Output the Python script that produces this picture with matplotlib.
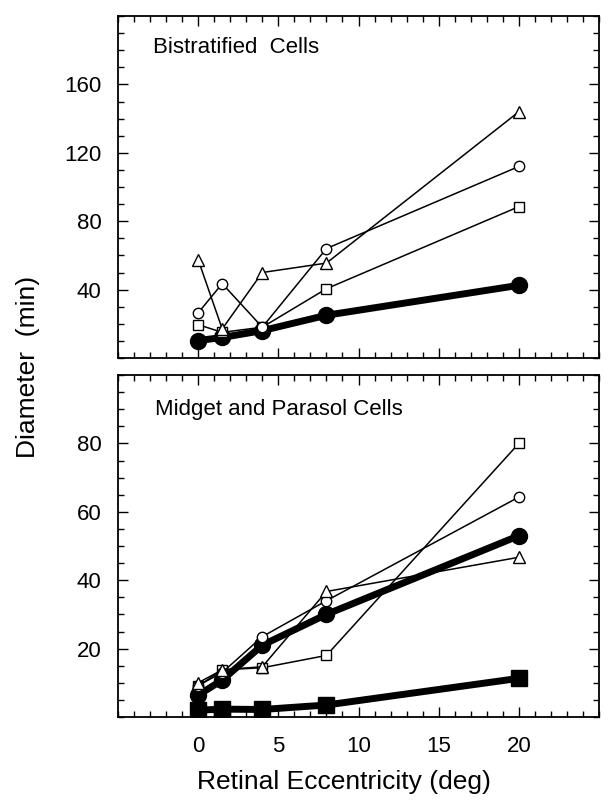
import matplotlib
matplotlib.use("Agg")
import matplotlib.pyplot as plt
from matplotlib.ticker import MultipleLocator, FixedLocator

plt.rcParams['font.family'] = ['Liberation Sans', 'DejaVu Sans']

ecc = [0, 1.5, 4, 8, 20]

# Bistratified cells
bi_filled_circle = [10.2, 12, 16, 25, 42.5]
bi_triangle = [57.5, 17, 50, 55.5, 144]
bi_circle = [26.4, 43.5, 18, 64, 112]
bi_square = [19.5, 15, 18, 40.5, 88.5]

# Midget and parasol cells
mp_filled_circle = [6.4, 10.8, 21, 30, 53]
mp_filled_square = [2, 2.3, 2.2, 3.5, 11.3]
mp_square = [9, 13.8, 14.4, 18, 80]
mp_circle = [9.2, 13, 23.5, 34, 64.3]
mp_triangle = [10, 13.8, 14.7, 36.7, 46.7]

xticks = [0, 5, 10, 15, 20]
top_yticks = [40, 80, 120, 160]
bot_yticks = [20, 40, 60, 80]

fig = plt.figure(figsize=(6.13, 8.01), dpi=100)
W, H = 613, 801
def rect(l, t, r, b):
    return [l / W, 1 - b / H, (r - l) / W, (b - t) / H]

ax1 = fig.add_axes(rect(118, 16, 599, 358))
ax2 = fig.add_axes(rect(118, 375, 599, 717))

thick = dict(color='black', lw=5, markersize=11.5, zorder=2)
thin = dict(color='black', lw=1.1, markersize=7.5, markerfacecolor='white',
            markeredgecolor='black', markeredgewidth=1.0, zorder=3)

ax1.plot(ecc, bi_filled_circle, marker='o', **thick)
ax1.plot(ecc, bi_square, marker='s', **thin)
ax1.plot(ecc, bi_circle, marker='o', **thin)
ax1.plot(ecc, bi_triangle, marker='^', **{**thin, 'markersize': 9})

ax2.plot(ecc, mp_filled_square, marker='s', **thick)
ax2.plot(ecc, mp_filled_circle, marker='o', **thick)
ax2.plot(ecc, mp_square, marker='s', **thin)
ax2.plot(ecc, mp_circle, marker='o', **thin)
ax2.plot(ecc, mp_triangle, marker='^', **{**thin, 'markersize': 9})

for ax, ylim, yt, ymin in ((ax1, (0, 200), top_yticks, 10), (ax2, (0, 100), bot_yticks, 5)):
    ax.set_xlim(-5, 25)
    ax.set_ylim(*ylim)
    ax.xaxis.set_major_locator(FixedLocator(xticks))
    ax.xaxis.set_minor_locator(MultipleLocator(1))
    ax.yaxis.set_major_locator(FixedLocator(yt))
    ax.yaxis.set_minor_locator(MultipleLocator(ymin))
    ax.tick_params(which='both', direction='in', top=True, right=True, width=1.0)
    ax.tick_params(which='major', length=7, labelsize=16)
    ax.tick_params(which='minor', length=4)
    ax.tick_params(axis='y', pad=12)
    for s in ax.spines.values():
        s.set_linewidth(1.3)

ax1.tick_params(labelbottom=False)
ax2.tick_params(axis='x', pad=14)

ax1.text(0.073, 0.909, 'Bistratified  Cells', transform=ax1.transAxes, fontsize=16,
         ha='left', va='center')
ax2.text(0.077, 0.898, 'Midget and Parasol Cells', transform=ax2.transAxes, fontsize=16,
         ha='left', va='center')

fig.text(0.561, 0.024, 'Retinal Eccentricity (deg)', fontsize=19, ha='center', va='center')
fig.text(0.046, 0.542, 'Diameter  (min)', fontsize=19, ha='center', va='center', rotation=90)

fig.savefig('out.png', dpi=100)
